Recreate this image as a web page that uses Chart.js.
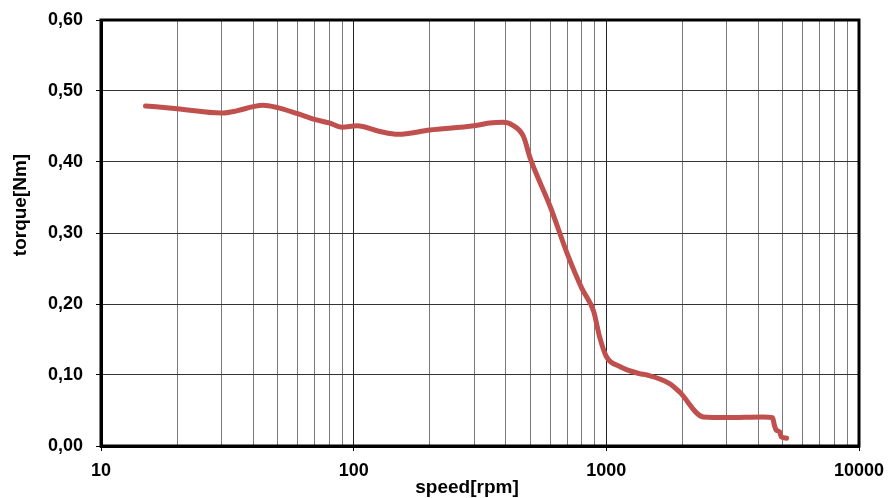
<!DOCTYPE html>
<html>
<head>
<meta charset="utf-8">
<script src="https://cdn.jsdelivr.net/npm/chart.js@4"></script>
<style>
  html, body { margin: 0; padding: 0; background: #fff; }
  #wrap { width: 888px; height: 498px; }
</style>
</head>
<body>
<div id="wrap"><canvas id="c" width="888" height="498"></canvas></div>
<script>
// ---- data ----
const speed = [15, 20, 30, 34.4, 40, 43.7, 49.5, 60, 70, 80, 90, 103, 127, 150, 200, 300, 345, 390, 425, 470, 500, 600, 700, 800, 890, 940, 1000, 1130, 1350, 1450, 1780, 1950, 2420, 3000, 4170, 4550, 4620, 4700, 4850, 4920, 5170];
const torque = [0.479, 0.475, 0.469, 0.472, 0.478, 0.480, 0.477, 0.468, 0.460, 0.455, 0.449, 0.451, 0.443, 0.439, 0.445, 0.451, 0.455, 0.456, 0.452, 0.436, 0.405, 0.337, 0.271, 0.222, 0.190, 0.154, 0.126, 0.112, 0.102, 0.100, 0.088, 0.076, 0.041, 0.040, 0.041, 0.040, 0.030, 0.0225, 0.020, 0.013, 0.011];
const xTickValues = [10,20,30,40,50,60,70,80,90,100,200,300,400,500,600,700,800,900,1000,2000,3000,4000,5000,6000,7000,8000,9000,10000];
const xLabelValues = [10, 100, 1000, 10000];
const yTickValues = [0, 0.1, 0.2, 0.3, 0.4, 0.5, 0.6];
const xTitle = 'speed[rpm]';
const yTitle = 'torque[Nm]';

const FONT = '"Liberation Sans", Arial, Helvetica, sans-serif';
const isDecade = v => xLabelValues.includes(v);

const frame = {
  id: 'frame',
  afterDraw(chart) {
    const {ctx, chartArea: a} = chart;
    ctx.save();
    ctx.strokeStyle = '#000';
    ctx.lineWidth = 3;
    ctx.strokeRect(a.left, a.top, a.right - a.left, a.bottom - a.top);
    ctx.fillStyle = '#000';
    ctx.font = 'bold 19px ' + FONT;
    ctx.textAlign = 'center';
    ctx.textBaseline = 'alphabetic';
    ctx.fillText(xTitle, 467, 493);
    ctx.translate(25.5, 205);
    ctx.rotate(-Math.PI / 2);
    ctx.fillText(yTitle, 0, 0);
    ctx.restore();
  }
};

new Chart(document.getElementById('c'), {
  type: 'line',
  data: {
    datasets: [{
      data: speed.map((s, i) => ({x: s, y: torque[i]})),
      borderColor: '#c0504d',
      borderWidth: 5,
      pointRadius: 0,
      fill: false,
      cubicInterpolationMode: 'monotone',
      borderCapStyle: 'round',
      borderJoinStyle: 'round'
    }]
  },
  options: {
    responsive: false,
    animation: false,
    layout: { padding: { left: 0, right: 29, top: 20, bottom: 0 } },
    plugins: { legend: { display: false }, tooltip: { enabled: false } },
    scales: {
      x: {
        type: 'logarithmic',
        min: 10, max: 10000,
        afterBuildTicks: s => { s.ticks = xTickValues.map(v => ({value: v})); },
        afterFit: s => { s.height = 52; s.paddingLeft = 0; s.paddingRight = 0; },
        ticks: {
          autoSkip: false, maxRotation: 0, minRotation: 0,
          padding: 9,
          color: '#000',
          font: { family: FONT, size: 18, weight: 'bold' },
          callback: v => isDecade(v) ? String(v) : ''
        },
        grid: {
          color: c => isDecade(c.tick && c.tick.value) ? '#222' : '#7a7a7a',
          lineWidth: 1,
          tickLength: 5,
          tickColor: c => isDecade(c.tick && c.tick.value) ? '#000' : 'rgba(0,0,0,0)'
        },
        border: { display: true, color: '#000', width: 3 }
      },
      y: {
        min: 0, max: 0.6,
        afterBuildTicks: s => { s.ticks = yTickValues.map(v => ({value: v})); },
        afterFit: s => { s.width = 101; s.paddingTop = 0; s.paddingBottom = 0; },
        ticks: {
          padding: 13,
          color: '#000',
          font: { family: FONT, size: 18, weight: 'bold' },
          callback: v => Number(v).toFixed(2).replace('.', ',')
        },
        grid: { color: '#333', lineWidth: 1, tickLength: 5, tickColor: '#000' },
        border: { display: true, color: '#000', width: 3 }
      }
    }
  },
  plugins: [frame]
});
</script>
</body>
</html>
